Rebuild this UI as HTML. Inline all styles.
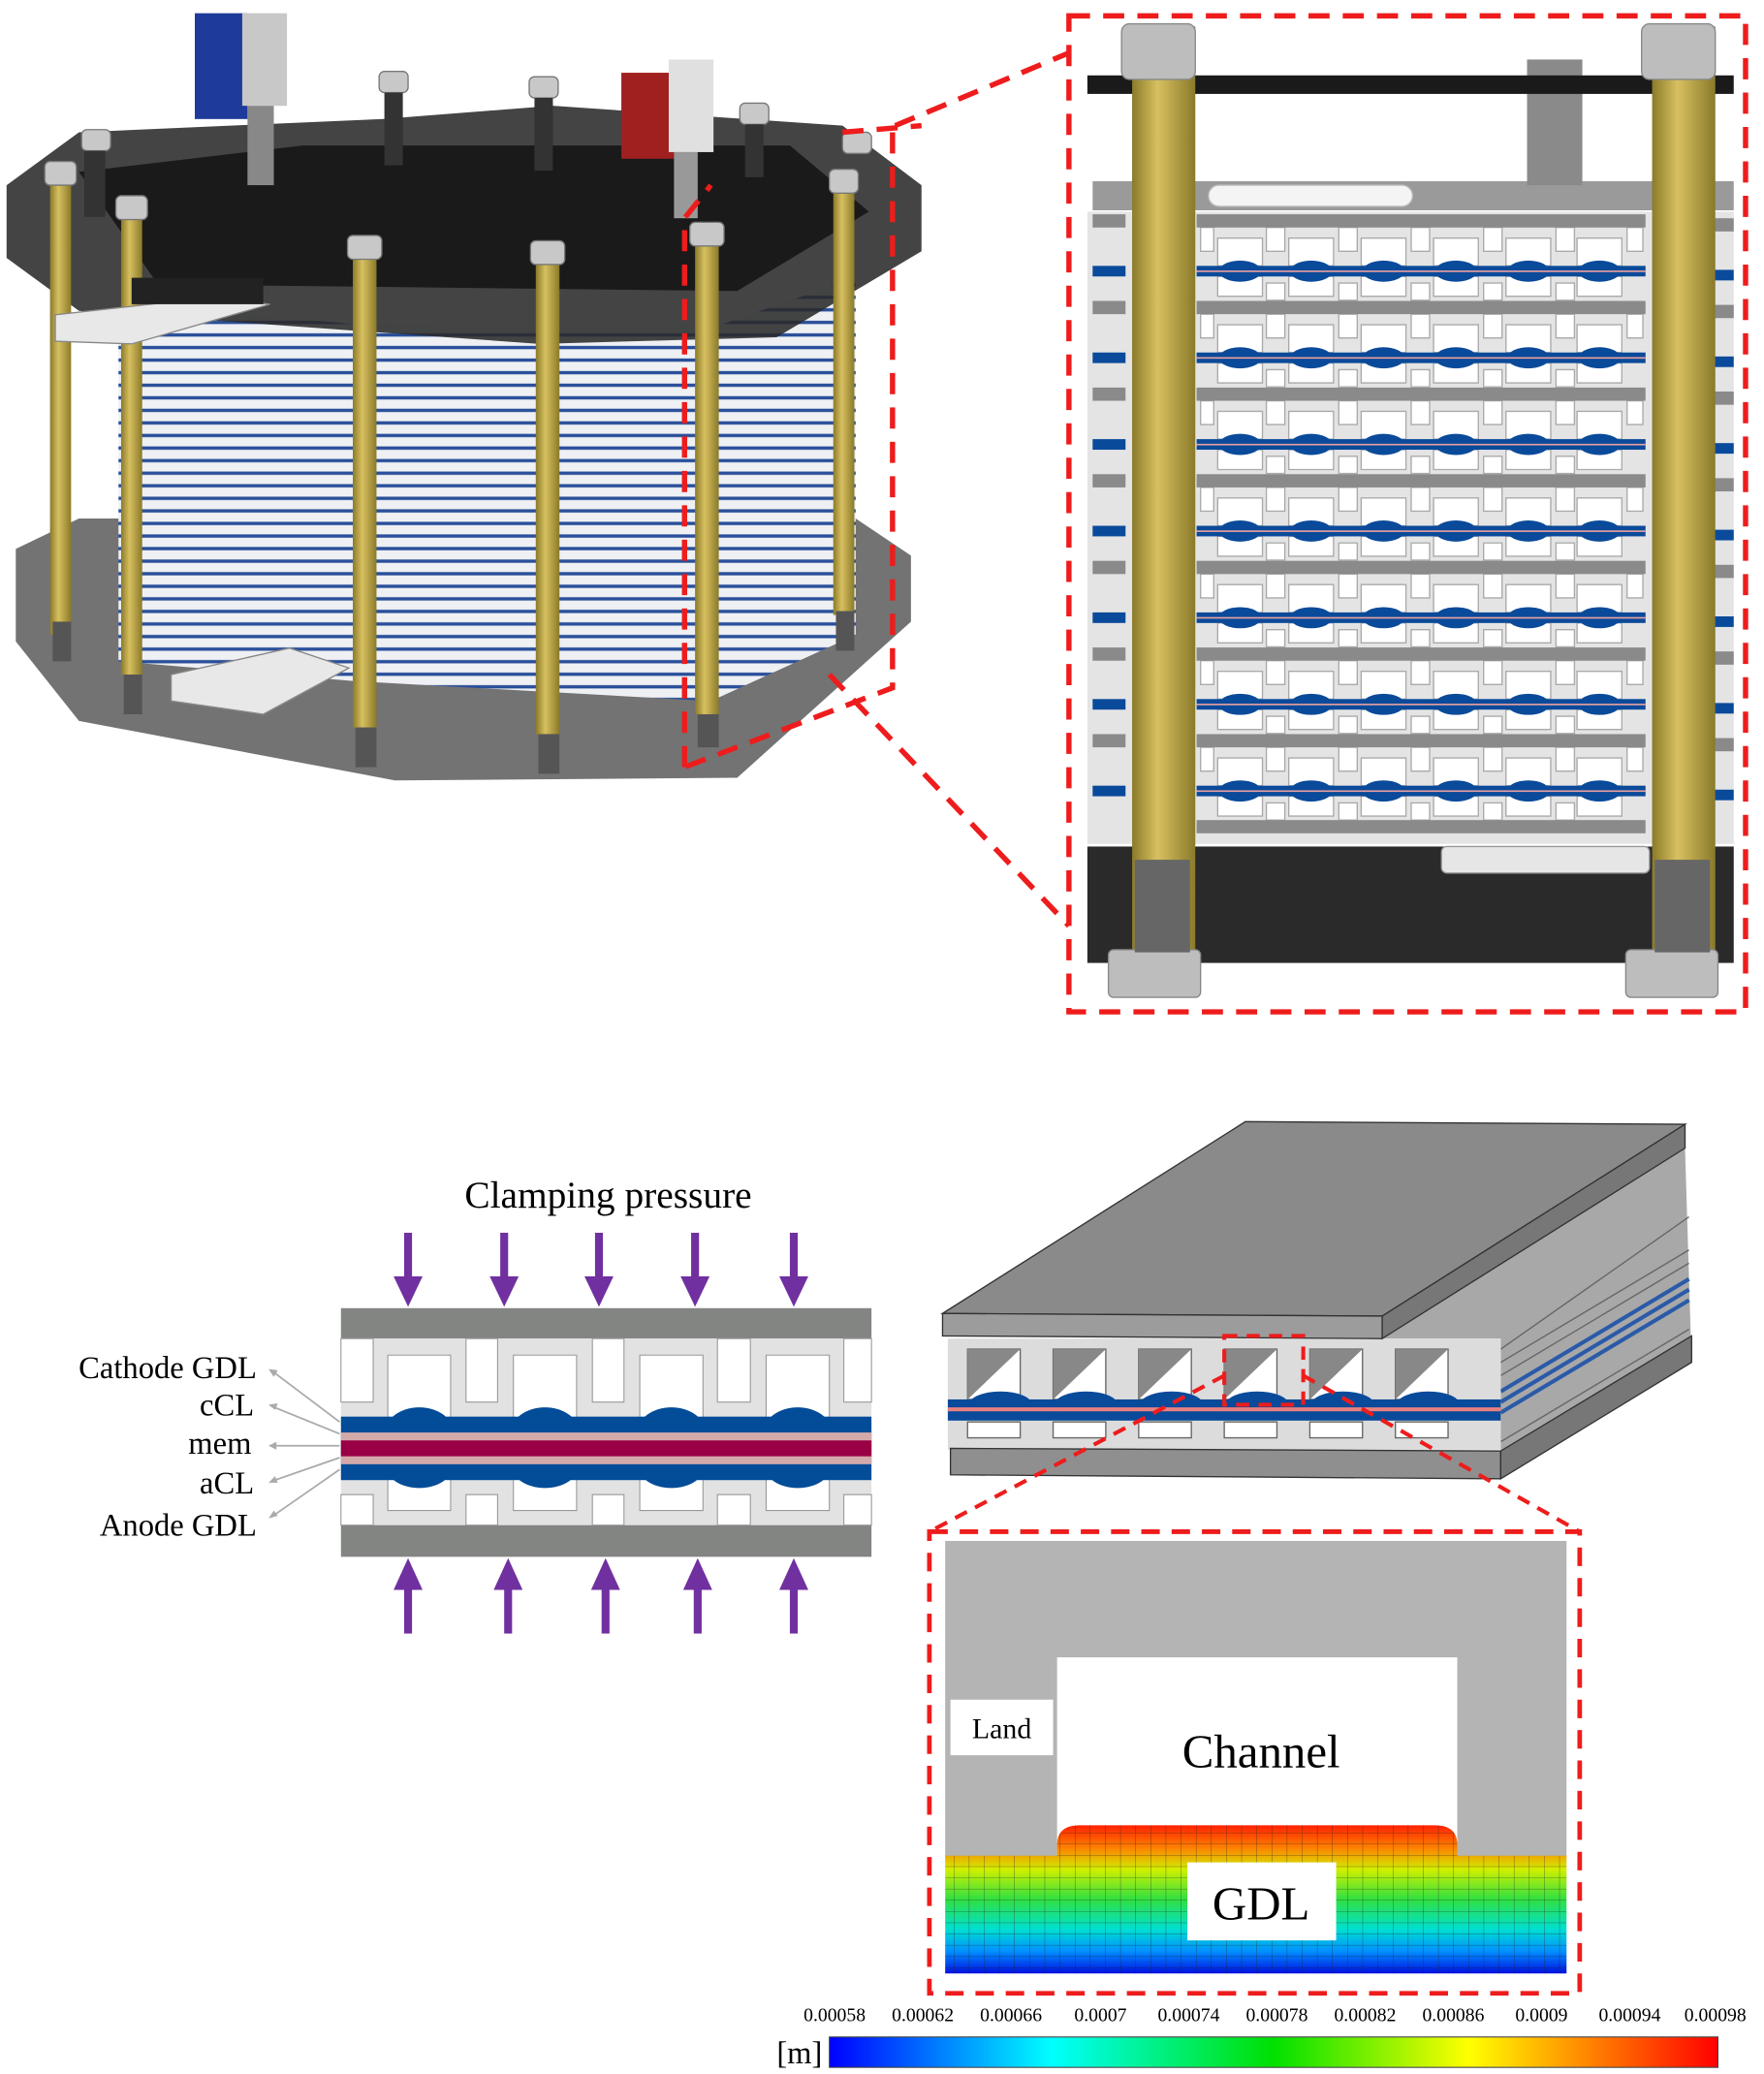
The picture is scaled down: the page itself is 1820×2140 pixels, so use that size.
<!DOCTYPE html>
<html><head><meta charset="utf-8"><style>html,body{margin:0;padding:0;background:#fff}svg{display:block}</style></head>
<body>
<svg width="1820" height="2140" viewBox="0 0 1340 1568" preserveAspectRatio="none" xmlns="http://www.w3.org/2000/svg">
<defs>
<pattern id="stripes" width="10" height="9.5" patternUnits="userSpaceOnUse"><rect width="10" height="9.5" fill="#eef0f3"/><rect y="5" width="10" height="2.5" fill="#2a4f9a"/></pattern>
<linearGradient id="gold" x1="0" x2="1"><stop offset="0" stop-color="#8a7a2a"/><stop offset="0.4" stop-color="#d8c060"/><stop offset="1" stop-color="#8a7a2a"/></linearGradient>
<linearGradient id="cbar" x1="0" x2="1"><stop offset="0" stop-color="#0000ff"/><stop offset="0.25" stop-color="#00ffff"/><stop offset="0.5" stop-color="#00e000"/><stop offset="0.72" stop-color="#ffff00"/><stop offset="1" stop-color="#ff0000"/></linearGradient>
<linearGradient id="gdl" x1="0" y1="0" x2="0" y2="1"><stop offset="0" stop-color="#ff2000"/><stop offset="0.15" stop-color="#ff8000"/><stop offset="0.3" stop-color="#d0f000"/><stop offset="0.5" stop-color="#30e040"/><stop offset="0.7" stop-color="#00e0d0"/><stop offset="0.85" stop-color="#0090ff"/><stop offset="1" stop-color="#0010e0"/></linearGradient>
<pattern id="mesh" width="11.5" height="8.5" patternUnits="userSpaceOnUse"><path d="M0 0H11.5M0 0V8.5" stroke="#222" stroke-width="0.6" fill="none" opacity="0.7"/></pattern>
</defs>

<!-- ===== Stack photo ===== -->
<path d="M12 415 L60 392 L650 392 L692 420 L692 470 L560 588 L300 590 L60 545 L12 485 Z" fill="#5a5a5a" opacity="0.85"/>
<path d="M90 230 L270 245 L270 515 L90 500 Z" fill="url(#stripes)"/>
<path d="M270 245 L540 248 L540 530 L270 515 Z" fill="url(#stripes)"/>
<path d="M540 248 L650 210 L650 480 L540 530 Z" fill="url(#stripes)"/>
<path d="M5 140 L60 100 L290 90 L420 80 L640 95 L700 140 L700 190 L590 255 L410 260 L270 250 L60 235 L5 195 Z" fill="#2a2a2a" opacity="0.88"/>
<path d="M60 130 L230 110 L600 110 L660 160 L560 220 L120 215 Z" fill="#1a1a1a"/>
<g fill="url(#gold)">
<rect x="38" y="140" width="16" height="340"/><rect x="92" y="165" width="16" height="345"/><rect x="268" y="190" width="18" height="360"/><rect x="407" y="195" width="18" height="360"/><rect x="528" y="180" width="18" height="360"/><rect x="633" y="145" width="16" height="320"/>
</g>
<g fill="#555"><rect x="40" y="470" width="14" height="30"/><rect x="94" y="510" width="14" height="30"/><rect x="270" y="550" width="16" height="30"/><rect x="409" y="555" width="16" height="30"/><rect x="530" y="540" width="16" height="25"/><rect x="635" y="462" width="14" height="30"/></g>
<g fill="#c8c8c8" stroke="#777"><rect x="34" y="122" width="24" height="18" rx="4"/><rect x="88" y="148" width="24" height="18" rx="4"/><rect x="264" y="178" width="26" height="18" rx="4"/><rect x="403" y="182" width="26" height="18" rx="4"/><rect x="524" y="168" width="26" height="18" rx="4"/><rect x="630" y="128" width="22" height="18" rx="4"/><rect x="62" y="98" width="22" height="16" rx="4"/><rect x="288" y="54" width="22" height="16" rx="4"/><rect x="402" y="58" width="22" height="16" rx="4"/><rect x="562" y="78" width="22" height="16" rx="4"/><rect x="640" y="100" width="22" height="16" rx="4"/></g>
<g fill="#333"><rect x="292" y="70" width="14" height="55"/><rect x="406" y="74" width="14" height="55"/><rect x="566" y="94" width="14" height="40"/><rect x="64" y="114" width="16" height="50"/></g>
<path d="M42 238 L160 225 L205 230 L100 260 L42 258 Z" fill="#e8e8e8" stroke="#888"/>
<rect x="100" y="210" width="100" height="20" fill="#222"/>
<path d="M130 510 L220 490 L265 505 L200 540 L130 530 Z" fill="#e8e8e8" stroke="#888"/>
<rect x="148" y="10" width="40" height="80" fill="#1e3a9a"/><rect x="184" y="10" width="34" height="70" fill="#c8c8c8"/><rect x="188" y="80" width="20" height="60" fill="#888"/>
<rect x="472" y="55" width="40" height="65" fill="#a02020"/><rect x="508" y="45" width="34" height="70" fill="#e0e0e0"/><rect x="512" y="115" width="18" height="50" fill="#999"/>
<g stroke="#ee1c1c" stroke-width="4" stroke-dasharray="16 10" fill="none">
<path d="M520 580 L520 165 L540 140 M678 100 L678 520 L520 580 M640 100 L700 95"/>
<path d="M680 95 L812 40 M630 510 L812 700"/>
<rect x="812" y="12" width="514" height="753"/>
</g>

<!-- ===== Zoomed stack ===== -->
<rect x="830" y="137" width="487" height="22" fill="#9a9a9a"/>
<rect x="918" y="140" width="155" height="16" rx="8" fill="#f4f4f4" stroke="#bbb"/>
<rect x="1160" y="45" width="42" height="95" fill="#8a8a8a"/>
<rect x="826" y="57" width="491" height="14" fill="#1a1a1a"/>
<rect x="826" y="160" width="491" height="478" fill="#e4e4e4"/>
<g fill="#fff" stroke="#aaa" stroke-width="1">
<path id="cellrow" d="M925 180h34v21h-34zM979 180h34v21h-34zM1034 180h34v21h-34zM1089 180h34v21h-34zM1144 180h34v21h-34zM1198 180h34v21h-34zM962 172h14v18h-14zM1017 172h14v18h-14zM1072 172h14v18h-14zM1127 172h14v18h-14zM1182 172h14v18h-14zM912 172h10v18h-10zM1236 172h12v18h-12zM925 209h34v15h-34zM979 209h34v15h-34zM1034 209h34v15h-34zM1089 209h34v15h-34zM1144 209h34v15h-34zM1198 209h34v15h-34zM962 214h14v13h-14zM1017 214h14v13h-14zM1072 214h14v13h-14zM1127 214h14v13h-14zM1182 214h14v13h-14z"/>
<use href="#cellrow" y="65.5"/><use href="#cellrow" y="131"/><use href="#cellrow" y="196.5"/><use href="#cellrow" y="262"/><use href="#cellrow" y="327.5"/><use href="#cellrow" y="393"/>
</g>
<g id="r0">
<rect x="909" y="162" width="341" height="10" fill="#8a8a8a"/>
<rect x="909" y="201" width="341" height="8" fill="#0a4a9a"/>
<g fill="#0a4a9a"><ellipse cx="942" cy="205" rx="16" ry="8"/><ellipse cx="996" cy="205" rx="16" ry="8"/><ellipse cx="1051" cy="205" rx="16" ry="8"/><ellipse cx="1106" cy="205" rx="16" ry="8"/><ellipse cx="1161" cy="205" rx="16" ry="8"/><ellipse cx="1215" cy="205" rx="16" ry="8"/></g>
<rect x="909" y="204.5" width="341" height="1.2" fill="#e8a0a0"/>
<rect x="830" y="162" width="25" height="10" fill="#8a8a8a"/><rect x="1302" y="165" width="15" height="10" fill="#8a8a8a"/>
<rect x="830" y="201" width="25" height="8" fill="#0a4a9a"/><rect x="1302" y="204" width="15" height="8" fill="#0a4a9a"/>
</g>
<use href="#r0" y="65.5"/><use href="#r0" y="131"/><use href="#r0" y="196.5"/><use href="#r0" y="262"/><use href="#r0" y="327.5"/><use href="#r0" y="393"/>
<rect x="909" y="620" width="341" height="10" fill="#8a8a8a"/>
<rect x="826" y="640" width="491" height="88" fill="#2a2a2a"/>
<rect x="1095" y="640" width="158" height="20" rx="4" fill="#e6e6e6" stroke="#999"/>
<rect x="860" y="20" width="48" height="700" fill="url(#gold)"/>
<rect x="1255" y="20" width="48" height="700" fill="url(#gold)"/>
<g fill="#bdbdbd" stroke="#888"><rect x="852" y="18" width="56" height="42" rx="6"/><rect x="1247" y="18" width="56" height="42" rx="6"/><rect x="842" y="718" width="70" height="36" rx="4"/><rect x="1235" y="718" width="70" height="36" rx="4"/></g>
<rect x="862" y="650" width="42" height="70" fill="#666"/><rect x="1257" y="650" width="42" height="70" fill="#666"/>

<!-- ===== Cross-section ===== -->
<text x="462" y="913" font-family="Liberation Serif, serif" font-size="29" text-anchor="middle">Clamping pressure</text>
<g fill="#7030a0">
<g id="ad"><rect x="307" y="932" width="6" height="38"/><path d="M299 965 L321 965 L310 988 Z"/></g>
<use href="#ad" x="73"/><use href="#ad" x="145"/><use href="#ad" x="218"/><use href="#ad" x="293"/>
<g id="au"><rect x="307" y="1198" width="6" height="37"/><path d="M299 1202 L321 1202 L310 1178 Z"/></g>
<use href="#au" x="76"/><use href="#au" x="150"/><use href="#au" x="220"/><use href="#au" x="293"/>
</g>
<rect x="259" y="989" width="403" height="23" fill="#838583"/>
<rect x="259" y="1153" width="403" height="24" fill="#838583"/>
<rect x="259" y="1012" width="403" height="141" fill="#e2e2e2"/>
<g fill="#fff" stroke="#999" stroke-width="0.8">
<path d="M259 1012H283.5V1060H259Z"/><path d="M354 1012H378V1060H354Z"/><path d="M450 1012H474V1060H450Z"/><path d="M545 1012H570V1060H545Z"/><path d="M641 1012H662V1060H641Z"/>
<path d="M294.6 1024.5H342.3V1072H294.6Z"/><path d="M390 1024.5H438V1072H390Z"/><path d="M486 1024.5H534V1072H486Z"/><path d="M582 1024.5H630V1072H582Z"/>
<path d="M259 1130H283.5V1153H259Z"/><path d="M354 1130H378V1153H354Z"/><path d="M450 1130H474V1153H450Z"/><path d="M545 1130H570V1153H545Z"/><path d="M641 1130H662V1153H641Z"/>
<path d="M294.6 1118H342.3V1142H294.6Z"/><path d="M390 1118H438V1142H390Z"/><path d="M486 1118H534V1142H486Z"/><path d="M582 1118H630V1142H582Z"/>
</g>
<rect x="259" y="1071" width="403" height="48" fill="#034c98"/>
<g fill="#034c98"><ellipse cx="318.5" cy="1083" rx="26" ry="19"/><ellipse cx="414" cy="1083" rx="26" ry="19"/><ellipse cx="510" cy="1083" rx="26" ry="19"/><ellipse cx="606" cy="1083" rx="26" ry="19"/>
<ellipse cx="318.5" cy="1107" rx="26" ry="18"/><ellipse cx="414" cy="1107" rx="26" ry="18"/><ellipse cx="510" cy="1107" rx="26" ry="18"/><ellipse cx="606" cy="1107" rx="26" ry="18"/></g>
<rect x="259" y="1083" width="403" height="24" fill="#d3a9aa"/>
<rect x="259" y="1089" width="403" height="12" fill="#990045"/>
<g font-family="Liberation Serif, serif" font-size="24" text-anchor="end" fill="#000">
<text x="195" y="1042">Cathode GDL</text><text x="193" y="1070">cCL</text><text x="191" y="1099">mem</text><text x="193" y="1129">aCL</text><text x="195" y="1161">Anode GDL</text>
</g>
<g stroke="#aaa" stroke-width="1.3" fill="none"><path d="M206 1036L258 1075M206 1063L258 1084M206 1093L258 1093M206 1120L258 1102M206 1147L258 1111"/></g>
<g fill="#aaa"><path d="M204 1035l7 1-3 5z"/><path d="M204 1062l7-1-2 5z"/><path d="M204 1093l6-3v6z"/><path d="M204 1121l5-5 2 5z"/><path d="M204 1148l4-6 3 4z"/></g>

<!-- ===== 3D plate stack ===== -->
<path d="M1050 1012 L1280 868 L1285 1030 L1140 1118 L1140 1012 Z" fill="#a8a8a8"/>
<g stroke="#2a5aa8" stroke-width="3"><path d="M1140 1060 L1283 975"/><path d="M1140 1068 L1283 983"/><path d="M1140 1052 L1283 967"/></g>
<g stroke="#666" stroke-width="1"><path d="M1140 1030 L1283 945 M1140 1090 L1283 1005 M1140 1100 L1283 1015 M1140 1020 L1283 920 M1140 1040 L1283 955"/></g>
<rect x="720" y="1012" width="420" height="84" fill="#dcdcdc"/>
<g fill="#fff" stroke="#666" stroke-width="1">
<path d="M735 1020h40v38h-40zM800 1020h40v38h-40zM865 1020h40v38h-40zM930 1020h40v38h-40zM995 1020h40v38h-40zM1060 1020h40v38h-40z"/>
<path d="M735 1075h40v12h-40zM800 1075h40v12h-40zM865 1075h40v12h-40zM930 1075h40v12h-40zM995 1075h40v12h-40zM1060 1075h40v12h-40z"/>
</g>
<g fill="#888"><path d="M735 1020l40 0-40 38zM800 1020l40 0-40 38zM865 1020l40 0-40 38zM930 1020l40 0-40 38zM995 1020l40 0-40 38zM1060 1020l40 0-40 38z"/></g>
<rect x="720" y="1058" width="420" height="16" fill="#0a4a9a"/>
<g fill="#0a4a9a"><ellipse cx="760" cy="1062" rx="24" ry="10"/><ellipse cx="825" cy="1062" rx="24" ry="10"/><ellipse cx="890" cy="1062" rx="24" ry="10"/><ellipse cx="955" cy="1062" rx="24" ry="10"/><ellipse cx="1020" cy="1062" rx="24" ry="10"/><ellipse cx="1085" cy="1062" rx="24" ry="10"/></g>
<rect x="720" y="1064" width="420" height="3" fill="#e88080"/>
<path d="M716 993 L946 848 L1280 850 L1050 995 Z" fill="#8a8a8a" stroke="#333"/>
<path d="M716 993 L1050 995 L1050 1012 L716 1010 Z" fill="#9c9c9c" stroke="#333"/>
<path d="M1050 995 L1280 850 L1280 868 L1050 1012 Z" fill="#777" stroke="#333"/>
<path d="M722 1095 L1140 1097 L1140 1118 L722 1115 Z" fill="#8f8f8f" stroke="#333"/>
<path d="M1140 1097 L1285 1010 L1285 1030 L1140 1118 Z" fill="#777" stroke="#333"/>

<g stroke="#ee1c1c" stroke-width="3" stroke-dasharray="10 7" fill="none">
<rect x="930" y="1010" width="60" height="52"/>
<path d="M930 1040 L706 1158 M990 1040 L1200 1158"/>
<rect x="706" y="1158" width="494" height="349" stroke-width="3.5" stroke-dasharray="14 9"/>
</g>

<!-- ===== Detail ===== -->
<rect x="718" y="1165" width="472" height="240" fill="#b4b4b4"/>
<rect x="803" y="1253" width="304" height="152" fill="#fff"/>
<rect x="722" y="1285" width="78" height="42" fill="#fff"/>
<text x="761" y="1314" font-family="Liberation Serif, serif" font-size="22" text-anchor="middle">Land</text>
<text x="958" y="1336" font-family="Liberation Serif, serif" font-size="36" text-anchor="middle">Channel</text>
<path d="M718 1403 H803 V1395 Q803 1380 820 1380 H1090 Q1107 1380 1107 1395 V1403 H1190 V1492 H718 Z" fill="url(#gdl)"/>
<path d="M718 1403 H803 V1395 Q803 1380 820 1380 H1090 Q1107 1380 1107 1395 V1403 H1190 V1492 H718 Z" fill="url(#mesh)"/>
<rect x="902" y="1408" width="113" height="59" fill="#fff"/>
<text x="958" y="1451" font-family="Liberation Serif, serif" font-size="36" text-anchor="middle">GDL</text>

<!-- ===== Legend ===== -->
<g font-family="Liberation Serif, serif" font-size="14.5" text-anchor="middle">
<text x="634" y="1528">0.00058</text><text x="701" y="1528">0.00062</text><text x="768" y="1528">0.00066</text><text x="836" y="1528">0.0007</text><text x="903" y="1528">0.00074</text><text x="970" y="1528">0.00078</text><text x="1037" y="1528">0.00082</text><text x="1104" y="1528">0.00086</text><text x="1171" y="1528">0.0009</text><text x="1238" y="1528">0.00094</text><text x="1303" y="1528">0.00098</text>
</g>
<rect x="630" y="1540" width="675" height="23" fill="url(#cbar)" stroke="#444" stroke-width="0.8"/>
<text x="590" y="1560" font-family="Liberation Serif, serif" font-size="24">[m]</text>
</svg>
</body></html>
